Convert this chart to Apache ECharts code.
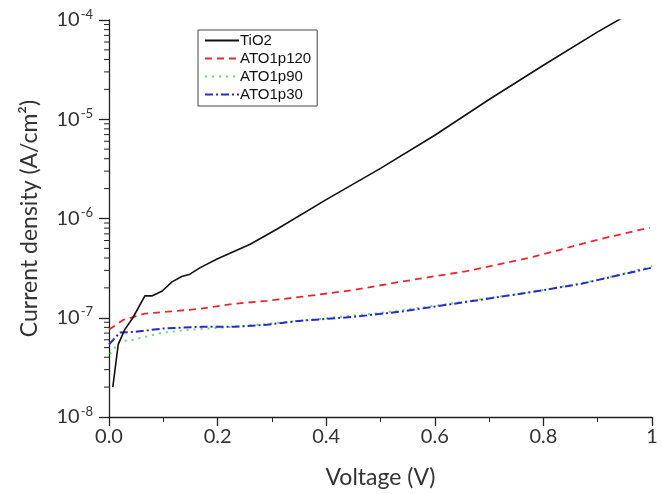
<!DOCTYPE html>
<html><head><meta charset="utf-8">
<script src="https://cdn.jsdelivr.net/npm/echarts@6/dist/echarts.min.js"></script>
<style>html,body{margin:0;padding:0;background:#fff}#c{width:662px;height:494px}</style>
</head><body><div id="c"></div>
<script>
// ---- data ----
const tio2V = [0.007,0.017,0.029,0.044,0.066,0.079,0.098,0.116,0.134,0.149,0.168,0.199,0.228,0.26,0.309,0.4,0.5,0.6,0.7,0.8,0.9,0.945];
const tio2J = [2.0e-8,5.4e-8,7.6e-8,1.0e-7,1.66e-7,1.66e-7,1.86e-7,2.3e-7,2.6e-7,2.75e-7,3.2e-7,3.9e-7,4.6e-7,5.5e-7,7.8e-7,1.55e-6,3.2e-6,6.9e-6,1.58e-5,3.5e-5,7.6e-5,1.05e-4];

const p120V = [0.0,0.026,0.066,0.107,0.168,0.228,0.291,0.352,0.45,0.536,0.659,0.781,0.904,0.996];
const p120J = [7.6e-8,9.5e-8,1.1e-7,1.15e-7,1.23e-7,1.38e-7,1.48e-7,1.62e-7,1.9e-7,2.3e-7,2.95e-7,4.1e-7,6.2e-7,8.1e-7];

const p90V = [0.002,0.02,0.045,0.1,0.15,0.2,0.25,0.35,0.5,0.6,0.7,0.8,0.9,1.0];
const p90J = [4.3e-8,5.8e-8,6.0e-8,7.1e-8,7.6e-8,7.9e-8,8.3e-8,9.3e-8,1.12e-7,1.32e-7,1.58e-7,1.9e-7,2.4e-7,3.3e-7];

const p30V = [0.0,0.008,0.02,0.045,0.1,0.17,0.23,0.29,0.35,0.45,0.536,0.66,0.78,0.87,1.0];
const p30J = [5.4e-8,6.0e-8,7.1e-8,7.2e-8,7.8e-8,8.1e-8,8.1e-8,8.5e-8,9.3e-8,1.02e-7,1.15e-7,1.45e-7,1.82e-7,2.2e-7,3.2e-7];

const seriesNames = ['TiO2','ATO1p120','ATO1p90','ATO1p30'];
const xTicks = [0, 0.2, 0.4, 0.6, 0.8, 1];
const xTickLabels = ['0.0','0.2','0.4','0.6','0.8','1'];
const yMinorTicks = [];
[1e-8,1e-7,1e-6,1e-5].forEach(d => { [2,3,4,5,6,7,8,9].forEach(m => yMinorTicks.push(m*d)); });

const zip = (a,b) => a.map((v,i)=>[v,b[i]]);
const FONT = 'Lato';

const chart = echarts.init(document.getElementById('c'), null, {renderer:'canvas'});
chart.setOption({
  animation:false,
  backgroundColor:'#fff',
  grid:{left:109, right:10, top:20, bottom:76, containLabel:false},
  legend:{
    data:seriesNames, orient:'vertical', left:198, top:30,
    borderColor:'#444', borderWidth:1, borderRadius:0,
    padding:[3,6,4,6], itemGap:3, itemWidth:34, itemHeight:14,
    itemStyle:{opacity:0},
    textStyle:{fontFamily:'Liberation Sans', fontSize:15, color:'#111', padding:[0,0,0,-4]}
  },
  xAxis:{
    type:'value', min:0, max:1, interval:0.2,
    axisLine:{lineStyle:{color:'#222', width:1.3}},
    axisTick:{length:9, lineStyle:{color:'#222', width:1.3}},
    minorTick:{show:true, splitNumber:2, length:5, lineStyle:{color:'#222', width:1}},
    splitLine:{show:false},
    axisLabel:{margin:10, fontFamily:FONT, fontSize:20, color:'#333',
      formatter:v => { const i = xTicks.findIndex(t=>Math.abs(t-v)<1e-9); return i>=0 ? xTickLabels[i] : ''; }},
    name:'Voltage (V)', nameLocation:'middle', nameGap:49,
    nameTextStyle:{fontFamily:FONT, fontSize:23, color:'#333'}
  },
  yAxis:{
    type:'log', logBase:10, min:1e-8, max:1e-4, interval:1,
    axisLine:{show:true, lineStyle:{color:'#222', width:1.3}},
    axisTick:{show:true, length:10, lineStyle:{color:'#222', width:1.3}},
    splitLine:{show:false},
    axisLabel:{margin:16, fontFamily:FONT, color:'#333',
      formatter:v => '{b|10}{s|' + Math.round(Math.log10(v)) + '}',
      rich:{b:{fontFamily:FONT, fontSize:20, color:'#333', lineHeight:24},
            s:{fontFamily:FONT, fontSize:13, color:'#333', verticalAlign:'top', lineHeight:24, padding:[0,0,9,1]}}},
    name:'Current density (A/cm²)', nameLocation:'middle', nameGap:68,
    nameTextStyle:{fontFamily:FONT, fontSize:23, color:'#333'}
  },
  series:[
    {name:'TiO2', type:'line', data:zip(tio2V,tio2J), symbol:'none', smooth:false,
      lineStyle:{color:'#111', width:1.6, type:'solid'}, itemStyle:{color:'#111'}, z:5},
    {name:'ATO1p120', type:'line', data:zip(p120V,p120J), symbol:'none',
      lineStyle:{color:'#e8282c', width:1.8, type:[7,5]}, itemStyle:{color:'#e8282c'}, z:4},
    {name:'ATO1p90', type:'line', data:zip(p90V,p90J), symbol:'none',
      lineStyle:{color:'#6bdc6b', width:2, type:[2,5]}, itemStyle:{color:'#6bdc6b'}, z:3},
    {name:'ATO1p30', type:'line', data:zip(p30V,p30J), symbol:'none',
      lineStyle:{color:'#2a2ac8', width:2, type:[8,3,2,3]}, itemStyle:{color:'#2a2ac8'}, z:4},
    {name:'yMinor', type:'custom', silent:true, clip:false, z:10,
      data:yMinorTicks.map(v=>[0,v]),
      renderItem:(params, api) => {
        const p = api.coord([0, api.value(1)]);
        return {type:'line', shape:{x1:p[0]-5, y1:p[1], x2:p[0], y2:p[1]}, style:{stroke:'#222', lineWidth:1}};
      }}
  ]
});
</script></body></html>
